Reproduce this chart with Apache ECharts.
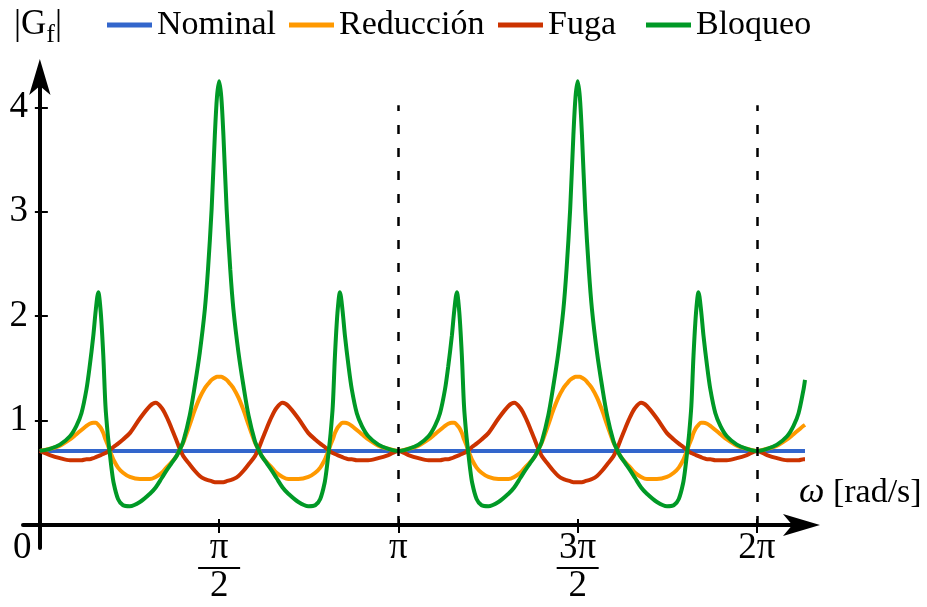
<!DOCTYPE html>
<html><head><meta charset="utf-8">
<script src="https://cdn.jsdelivr.net/npm/echarts@6/dist/echarts.min.js"></script>
<style>html,body{margin:0;padding:0;background:#fff}#c{width:927px;height:607px}</style>
</head><body><div id="c"></div>
<script>
// ω in units of π
const xPi = [0,0.028,0.056,0.084,0.102,0.116,0.130,0.139,0.149,0.156,0.163,0.170,0.177,0.183,0.189,0.194,0.200,0.206,0.218,0.232,0.251,0.279,0.307,0.323,0.340,0.353,0.367,0.381,0.390,0.400,0.418,0.432,0.446,0.460,0.469,0.479,0.488,0.494,0.500,
0.506,0.512,0.521,0.531,0.540,0.554,0.568,0.582,0.600,0.610,0.619,0.633,0.647,0.660,0.677,0.693,0.721,0.749,0.768,0.782,0.794,0.800,0.806,0.811,0.817,0.823,0.830,0.837,0.844,0.851,0.861,0.870,0.884,0.898,0.916,0.944,0.972,1.000,
1.028,1.056,1.084,1.102,1.116,1.130,1.139,1.149,1.156,1.163,1.170,1.177,1.183,1.189,1.194,1.200,1.206,1.218,1.232,1.251,1.279,1.307,1.323,1.340,1.353,1.367,1.381,1.390,1.400,1.418,1.432,1.446,1.460,1.469,1.479,1.488,1.494,1.500,
1.506,1.512,1.521,1.531,1.540,1.554,1.568,1.582,1.600,1.610,1.619,1.633,1.647,1.660,1.677,1.693,1.721,1.749,1.768,1.782,1.794,1.800,1.806,1.811,1.817,1.823,1.830,1.837,1.844,1.851,1.861,1.870,1.884,1.898,1.916,1.944,1.972,2.000,
2.028,2.056,2.084,2.102,2.116,2.130,2.134];

const bloqueo = [0.71,0.73,0.77,0.85,0.95,1.07,1.30,1.52,1.81,2.06,2.23,2.03,1.62,1.14,0.88,0.72,0.54,0.40,0.25,0.19,0.18,0.22,0.30,0.36,0.45,0.52,0.59,0.66,0.72,0.80,1.05,1.33,1.65,2.06,2.45,3.02,3.73,4.10,4.25,
4.10,3.73,3.02,2.45,2.06,1.65,1.33,1.05,0.80,0.72,0.66,0.59,0.52,0.45,0.36,0.30,0.22,0.18,0.19,0.25,0.40,0.54,0.72,0.88,1.14,1.62,2.03,2.23,2.06,1.81,1.52,1.30,1.07,0.95,0.85,0.77,0.73,0.71,
0.73,0.77,0.85,0.95,1.07,1.30,1.52,1.81,2.06,2.23,2.03,1.62,1.14,0.88,0.72,0.54,0.40,0.25,0.19,0.18,0.22,0.30,0.36,0.45,0.52,0.59,0.66,0.72,0.80,1.05,1.33,1.65,2.06,2.45,3.02,3.73,4.10,4.25,
4.10,3.73,3.02,2.45,2.06,1.65,1.33,1.05,0.80,0.72,0.66,0.59,0.52,0.45,0.36,0.30,0.22,0.18,0.19,0.25,0.40,0.54,0.72,0.88,1.14,1.62,2.03,2.23,2.06,1.81,1.52,1.30,1.07,0.95,0.85,0.77,0.73,0.71,
0.73,0.77,0.85,0.95,1.07,1.30,1.39];

const reduccion = [0.71,0.73,0.76,0.82,0.87,0.91,0.95,0.97,0.98,0.98,0.96,0.93,0.88,0.82,0.77,0.72,0.67,0.62,0.55,0.50,0.46,0.44,0.44,0.46,0.50,0.55,0.60,0.66,0.72,0.79,0.96,1.10,1.22,1.31,1.35,1.39,1.41,1.42,1.42,
1.42,1.41,1.39,1.35,1.31,1.22,1.10,0.96,0.79,0.72,0.66,0.60,0.55,0.50,0.46,0.44,0.44,0.46,0.50,0.55,0.62,0.67,0.72,0.77,0.82,0.88,0.93,0.96,0.98,0.98,0.97,0.95,0.91,0.87,0.82,0.76,0.73,0.71,
0.73,0.76,0.82,0.87,0.91,0.95,0.97,0.98,0.98,0.96,0.93,0.88,0.82,0.77,0.72,0.67,0.62,0.55,0.50,0.46,0.44,0.44,0.46,0.50,0.55,0.60,0.66,0.72,0.79,0.96,1.10,1.22,1.31,1.35,1.39,1.41,1.42,1.42,
1.42,1.41,1.39,1.35,1.31,1.22,1.10,0.96,0.79,0.72,0.66,0.60,0.55,0.50,0.46,0.44,0.44,0.46,0.50,0.55,0.62,0.67,0.72,0.77,0.82,0.88,0.93,0.96,0.98,0.98,0.97,0.95,0.91,0.87,0.82,0.76,0.73,0.71,
0.73,0.76,0.82,0.87,0.91,0.95,0.96];

const fuga = [0.71,0.67,0.64,0.62,0.62,0.62,0.63,0.63,0.64,0.65,0.66,0.67,0.68,0.69,0.70,0.72,0.73,0.75,0.78,0.82,0.88,1.02,1.14,1.17,1.12,1.04,0.93,0.81,0.73,0.66,0.58,0.52,0.47,0.44,0.43,0.42,0.41,0.41,0.41,
0.41,0.41,0.42,0.43,0.44,0.47,0.52,0.58,0.66,0.73,0.81,0.93,1.04,1.12,1.17,1.14,1.02,0.88,0.82,0.78,0.75,0.73,0.72,0.70,0.69,0.68,0.67,0.66,0.65,0.64,0.63,0.63,0.62,0.62,0.62,0.64,0.67,0.71,
0.67,0.64,0.62,0.62,0.62,0.63,0.63,0.64,0.65,0.66,0.67,0.68,0.69,0.70,0.72,0.73,0.75,0.78,0.82,0.88,1.02,1.14,1.17,1.12,1.04,0.93,0.81,0.73,0.66,0.58,0.52,0.47,0.44,0.43,0.42,0.41,0.41,0.41,
0.41,0.41,0.42,0.43,0.44,0.47,0.52,0.58,0.66,0.73,0.81,0.93,1.04,1.12,1.17,1.14,1.02,0.88,0.82,0.78,0.75,0.73,0.72,0.70,0.69,0.68,0.67,0.66,0.65,0.64,0.63,0.63,0.62,0.62,0.62,0.64,0.67,0.71,
0.67,0.64,0.62,0.62,0.62,0.63,0.63];

const nominalX = [0, 2.134];
const nominalY = [0.71, 0.71];

const seriesNames = ['Nominal', 'Reducción', 'Fuga', 'Bloqueo'];
const seriesColors = ['#3366CC', '#FF9900', '#CC3300', '#009926'];
const xTickVals = [0, 0.5, 1, 1.5, 2];
const xTickText = ['0', 'π/2', 'π', '3π/2', '2π'];
const yTickVals = [1, 2, 3, 4];
const guideX = [1, 2];       // dashed verticals at π, 2π
const guideTop = 4.02;

const FONT = "'Liberation Serif','Times New Roman',serif";
const zip = (xs, ys) => xs.map((x, i) => [x, ys[i]]);

function xLabel(v) {
  const i = xTickVals.findIndex(t => Math.abs(t - v) < 1e-6);
  if (i < 0) return '';
  const s = xTickText[i];
  if (s === '0') return '{z|0}';
  if (s.indexOf('/') >= 0) {
    const p = s.split('/');
    return '{n|' + p[0] + '}\n{b| }\n{d|' + p[1] + '}';
  }
  return '{n|' + s + '}';
}

const chart = echarts.init(document.getElementById('c'), null, {renderer: 'canvas'});
const lineBase = (name, data, color, extra) => Object.assign({
  name, type: 'line', data, showSymbol: false, symbol: 'none', smooth: 0.3,
  clip: false, silent: true,
  lineStyle: {color, width: 4}, itemStyle: {color}
}, extra || {});

const legendLeft = [107, 289, 498, 646];

chart.setOption({
  animation: false,
  backgroundColor: '#fff',
  title: [
    {text: '{g||G}{s|f}{g||}', left: 14, top: 5, padding: 0,
     textStyle: {fontFamily: FONT, fontWeight: 'normal', color: '#000', fontSize: 34,
       rich: {g: {fontFamily: FONT, fontSize: 35, lineHeight: 40, color: '#000'},
              s: {fontFamily: FONT, fontSize: 26, lineHeight: 20, padding: [20, 0, 0, 0], color: '#000'}}}},
    {text: '{w|ω} [rad/s]', left: 799, top: 476, padding: 0,
     textStyle: {fontFamily: FONT, fontWeight: 'normal', color: '#000', fontSize: 34, lineHeight: 34,
       rich: {w: {fontFamily: FONT, fontStyle: 'italic', fontSize: 36, lineHeight: 34, color: '#000'}}}}
  ],
  legend: seriesNames.map((n, i) => ({
    data: [n], left: legendLeft[i], top: 8, padding: 0, icon: 'rect',
    itemWidth: 45, itemHeight: 5, itemGap: 0, selectedMode: false,
    textStyle: {fontFamily: FONT, fontSize: 34, color: '#000'}
  })),
  grid: {left: 23, right: 122, top: 77, bottom: 59, containLabel: false, outerBoundsMode: 'none'},
  xAxis: [
    {type: 'value', min: -0.047, max: 2.134, position: 'bottom',
     axisLine: {show: true, onZero: true, onZeroAxisIndex: 0, symbol: ['none', 'arrow'], symbolSize: [16.5, 37], symbolOffset: [0, 15],
       lineStyle: {color: '#000', width: 4}},
     axisTick: {show: true, customValues: [0.5, 1, 1.5, 2], length: 8, lineStyle: {color: '#000', width: 2}},
     axisLabel: {show: true, customValues: xTickVals, margin: -18, formatter: xLabel,
       rich: {
         z: {fontFamily: FONT, fontSize: 37, lineHeight: 36, color: '#000', padding: [0, 35, 0, 0]},
         n: {fontFamily: FONT, fontSize: 37, lineHeight: 36, color: '#000'},
         b: {width: 42, height: 2, lineHeight: 4, fontSize: 2, backgroundColor: '#000'},
         d: {fontFamily: FONT, fontSize: 37, lineHeight: 32, color: '#000'}
       }},
     splitLine: {show: false}},
    {type: 'value', min: -0.047, max: 2.134, position: 'bottom',
     axisLine: {show: false, onZero: true, onZeroAxisIndex: 0},
     axisTick: {show: true, inside: true, customValues: [0.5, 1, 1.5, 2], length: 6, lineStyle: {color: '#000', width: 2}},
     axisLabel: {show: false}, splitLine: {show: false}}
  ],
  yAxis: [
    {type: 'value', min: -0.22, max: 4.29, position: 'left',
     axisLine: {show: true, onZero: true, onZeroAxisIndex: 0, symbol: ['none', 'arrow'], symbolSize: [16, 36], symbolOffset: [0, 18],
       lineStyle: {color: '#000', width: 4}},
     axisTick: {show: true, customValues: yTickVals, length: 5, lineStyle: {color: '#000', width: 2}},
     axisLabel: {show: true, customValues: yTickVals, margin: -5, fontFamily: FONT, fontSize: 37, color: '#000'},
     splitLine: {show: false}},
    {type: 'value', min: -0.22, max: 4.29, position: 'left',
     axisLine: {show: false, onZero: true, onZeroAxisIndex: 0},
     axisTick: {show: true, inside: true, customValues: yTickVals, length: 8, lineStyle: {color: '#000', width: 2}},
     axisLabel: {show: false}, splitLine: {show: false}}
  ],
  series: [
    lineBase(seriesNames[0], zip(nominalX, nominalY), seriesColors[0], {
      smooth: false,
      markLine: {silent: true, symbol: ['none', 'none'], label: {show: false},
        lineStyle: {type: [9, 14], color: '#000', width: 2.5},
        data: guideX.map(g => [{coord: [g, 0]}, {coord: [g, guideTop]}])}
    }),
    lineBase(seriesNames[1], zip(xPi, reduccion), seriesColors[1]),
    lineBase(seriesNames[2], zip(xPi, fuga), seriesColors[2]),
    lineBase(seriesNames[3], zip(xPi, bloqueo), seriesColors[3])
  ]
});
</script></body></html>
